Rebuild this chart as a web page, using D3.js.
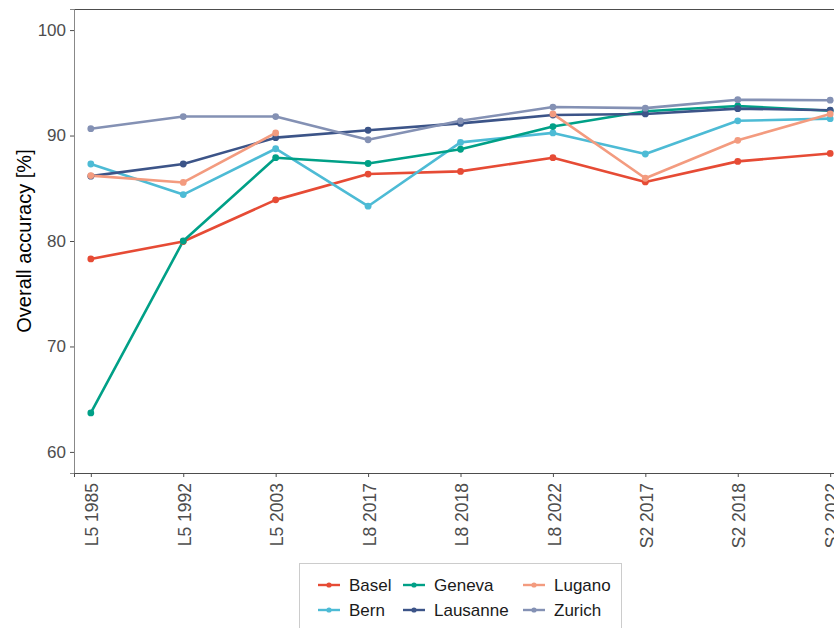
<!DOCTYPE html>
<html>
<head>
<meta charset="utf-8">
<script src="https://cdn.jsdelivr.net/npm/d3@7"></script>
<style>
  html, body { margin: 0; padding: 0; background: #fff; overflow: hidden; }
  svg { display: block; font-family: "Liberation Sans", Arial, sans-serif; }
</style>
</head>
<body>
<svg id="chart" width="834" height="628"></svg>
<script>
// Acquisitions (sensor + year) on the x axis
const categories = ["L5 1985", "L5 1992", "L5 2003", "L8 2017", "L8 2018", "L8 2022", "S2 2017", "S2 2018", "S2 2022"];
const yTicks = [60, 70, 80, 90, 100];

// Overall accuracy [%] per city; null = no classification for that acquisition
const basel    = [78.3, 79.95, 83.9, 86.35, 86.6, 87.9, 85.6, 87.55, 88.3];
const bern     = [87.3, 84.4, 88.75, 83.3, 89.35, 90.25, 88.25, 91.4, 91.6];
const geneva   = [63.7, 80.0, 87.9, 87.35, 88.7, 90.85, 92.3, 92.8, 92.35];
const lausanne = [86.15, 87.3, 89.8, 90.5, 91.15, 91.95, 92.05, 92.55, 92.4];
const lugano   = [86.2, 85.55, 90.25, null, null, 92.05, 85.95, 89.55, 92.05];
const zurich   = [90.65, 91.8, 91.8, 89.6, 91.4, 92.7, 92.6, 93.4, 93.35];

const cities = ["Basel", "Bern", "Geneva", "Lausanne", "Lugano", "Zurich"];
const cityValues = [basel, bern, geneva, lausanne, lugano, zurich];
const colors = ["#E64B35", "#4DBBD5", "#00A087", "#3C5488", "#F39B7F", "#8491B4"];

const series = cities.map((name, i) => ({
  name,
  color: colors[i],
  values: categories.map((c, j) => ({ cat: c, v: cityValues[i][j] }))
}));

const svg = d3.select("#chart");
const panel = { left: 74, top: 9, right: 847, bottom: 473 };
const fontFamily = "'Liberation Sans', Arial, sans-serif";

const x = d3.scalePoint().domain(categories).range([panel.left, panel.right]).padding(0.182);
const y = d3.scaleLinear().domain([58, 102]).range([panel.bottom, panel.top]);

// Panel border
svg.append("rect")
  .attr("x", panel.left + 0.5).attr("y", panel.top + 0.5)
  .attr("width", panel.right - panel.left).attr("height", panel.bottom - panel.top)
  .attr("fill", "none").attr("stroke", "#4d4d4d").attr("stroke-width", 1);

// Y axis
const yAxis = svg.append("g")
  .attr("transform", `translate(${panel.left},0)`)
  .call(d3.axisLeft(y).tickValues(yTicks).tickSize(4).tickPadding(4));
yAxis.select(".domain").attr("stroke", "#888");
yAxis.selectAll(".tick line").attr("stroke", "#4d4d4d");
yAxis.selectAll(".tick text").attr("fill", "#4d4d4d")
  .style("font-size", "17px").style("font-family", fontFamily);

// X axis
const xAxis = svg.append("g")
  .attr("transform", `translate(0,${panel.bottom})`)
  .call(d3.axisBottom(x).tickSize(4).tickPadding(4));
xAxis.select(".domain").attr("stroke", "#4d4d4d");
xAxis.selectAll(".tick line").attr("stroke", "#4d4d4d");
xAxis.selectAll(".tick text")
  .attr("fill", "#4d4d4d")
  .style("font-size", "17.5px")
  .style("font-family", fontFamily)
  .attr("text-anchor", "end")
  .attr("dy", "0.35em")
  .attr("transform", "translate(1,10) rotate(-90)")
  .attr("x", 0).attr("y", 0);

// Y axis title
svg.append("text")
  .attr("transform", `translate(30.5,${(panel.top + panel.bottom) / 2}) rotate(-90)`)
  .attr("text-anchor", "middle")
  .style("font-size", "20px")
  .style("font-family", fontFamily)
  .attr("fill", "#000")
  .text("Overall accuracy [%]");

// Lines (broken where a value is missing)
const line = d3.line()
  .defined(d => d.v !== null)
  .x(d => x(d.cat))
  .y(d => y(d.v));

const plot = svg.append("g");
series.forEach(s => {
  plot.append("path")
    .datum(s.values)
    .attr("fill", "none")
    .attr("stroke", s.color)
    .attr("stroke-width", 2.6)
    .attr("stroke-linejoin", "round")
    .attr("d", line);
});
series.forEach(s => {
  plot.selectAll(null)
    .data(s.values.filter(d => d.v !== null))
    .enter().append("circle")
    .attr("cx", d => x(d.cat))
    .attr("cy", d => y(d.v))
    .attr("r", 3.4)
    .attr("fill", s.color);
});

// Legend: 3 columns x 2 rows, filled column by column
const legend = svg.append("g");
legend.append("rect")
  .attr("x", 299.5).attr("y", 563.5)
  .attr("width", 322).attr("height", 80)
  .attr("fill", "#fff").attr("stroke", "#cccccc").attr("stroke-width", 1);

const colX = [318, 403, 523];
const rowY = [585, 610];
series.forEach((s, i) => {
  const cx = colX[Math.floor(i / 2)];
  const cy = rowY[i % 2];
  legend.append("line")
    .attr("x1", cx).attr("x2", cx + 22)
    .attr("y1", cy).attr("y2", cy)
    .attr("stroke", s.color).attr("stroke-width", 2.4);
  legend.append("circle")
    .attr("cx", cx + 11).attr("cy", cy).attr("r", 2.6)
    .attr("fill", s.color);
  legend.append("text")
    .attr("x", cx + 31).attr("y", cy)
    .attr("dy", "0.35em")
    .style("font-size", "17px")
    .style("font-family", fontFamily)
    .attr("fill", "#1a1a1a")
    .text(s.name);
});
</script>
</body>
</html>
